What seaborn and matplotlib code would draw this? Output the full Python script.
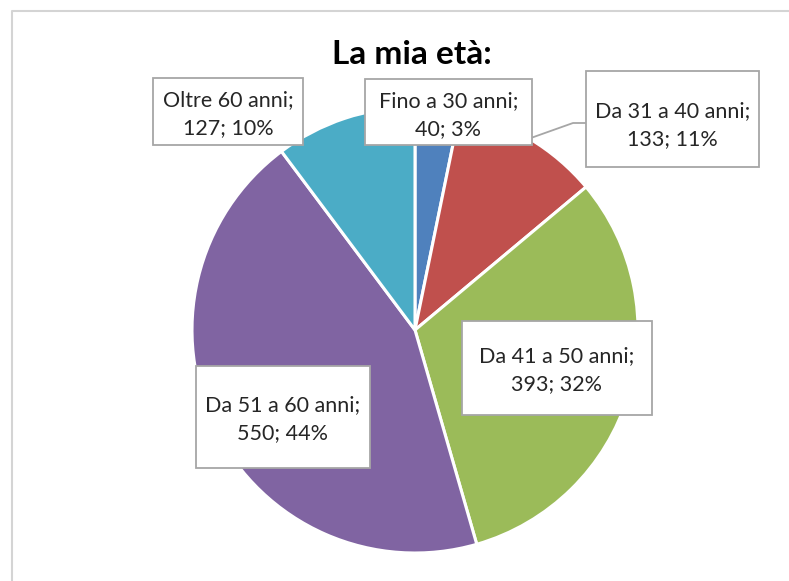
import matplotlib
matplotlib.use("Agg")
import matplotlib.pyplot as plt
import seaborn as sns
import numpy as np
from matplotlib.patches import Rectangle
from matplotlib.lines import Line2D

# ---- data ----
categories = ["Fino a 30 anni", "Da 31 a 40 anni", "Da 41 a 50 anni", "Da 51 a 60 anni", "Oltre 60 anni"]
counts = [40, 133, 393, 550, 127]
colors = ["#4F81BD", "#C0504D", "#9BBB59", "#8064A2", "#4BACC6"]
title = "La mia età:"

sns.set_theme(style="white")
plt.rcParams['font.family'] = ['Lato', 'DejaVu Sans']

W, H = 789, 581
fig = plt.figure(figsize=(W / 100, H / 100), dpi=100)
ax = fig.add_axes([0, 0, 1, 1])

def fy(y):
    return H - y

cx, cy, R = 415, 330, 223
palette = sns.color_palette(colors)
wedges, _ = ax.pie(counts, colors=palette, startangle=90, counterclock=False,
                   center=(cx, fy(cy)), radius=R,
                   wedgeprops=dict(edgecolor="white", linewidth=2.2))
ax.set_xlim(0, W)
ax.set_ylim(0, H)
ax.set_aspect("equal")
ax.axis("off")

# chart frame
ax.add_line(Line2D([12.5, 12.5, W], [0, fy(10.5), fy(10.5)], color="#d4d4d4", lw=1.5))

ax.text(412, fy(54), title, ha="center", va="center", fontsize=24,
        fontweight="bold", color="black")

total = sum(counts)
# label boxes (x0, y0, x1, y1) in pixel coords
boxes = [
    (365, 79, 532, 145),
    (586, 71, 759, 167),
    (462, 321, 652, 415),
    (196, 366, 370, 468),
    (153, 78, 303, 145),
]
text_dy = [3, 6, 2, 2, 3]
for i, (cat, v) in enumerate(zip(categories, counts)):
    x0, y0, x1, y1 = boxes[i]
    ax.add_patch(Rectangle((x0, fy(y1)), x1 - x0, y1 - y0, fc="white",
                           ec="#a6a6a6", lw=1.3, zorder=5))
    pct = round(v / total * 100)
    ax.text((x0 + x1) / 2, fy((y0 + y1) / 2 + text_dy[i]), f"{cat};\n{v}; {pct}%",
            ha="center", va="center", fontsize=15.5, color="#262626",
            linespacing=1.5, zorder=6)

# leader line for the second slice
w = wedges[1]
mid = np.deg2rad((w.theta1 + w.theta2) / 2)
ex, ey = cx + R * np.cos(mid), fy(cy) + R * np.sin(mid)
ax.add_line(Line2D([ex, 573, 586], [ey, fy(123), fy(123)], color="#a6a6a6", lw=1.3, zorder=4))

fig.savefig("out.png", dpi=100)
